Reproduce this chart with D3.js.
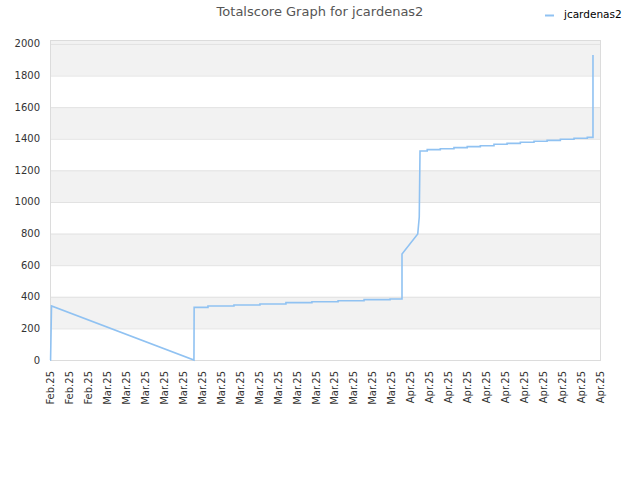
<!DOCTYPE html>
<html>
<head>
<meta charset="utf-8">
<script src="https://cdn.jsdelivr.net/npm/d3@7"></script>
<style>
  body { margin: 0; background: #fff; }
  text { font-family: "DejaVu Sans", sans-serif; }
</style>
</head>
<body>
<script>
// tick labels along the bottom (one every two days)
const tickLabels = [
  "Feb.25", "Feb.25", "Feb.25",
  "Mar.25", "Mar.25", "Mar.25", "Mar.25", "Mar.25", "Mar.25", "Mar.25", "Mar.25",
  "Mar.25", "Mar.25", "Mar.25", "Mar.25", "Mar.25", "Mar.25", "Mar.25", "Mar.25",
  "Apr.25", "Apr.25", "Apr.25", "Apr.25", "Apr.25", "Apr.25", "Apr.25", "Apr.25",
  "Apr.25", "Apr.25", "Apr.25"
];
const yTicks = [0, 200, 400, 600, 800, 1000, 1200, 1400, 1600, 1800, 2000];

// series: position in tick units, total score
const scoreX = [
  0, 0.03, 0.08, 7.59, 7.6, 8.33, 8.33, 9.7, 9.7, 11.07, 11.07, 12.44, 12.44,
  13.81, 13.81, 15.19, 15.19, 16.56, 16.56, 17.93, 17.93, 18.56, 18.56,
  19.39, 19.47, 19.51, 19.89, 19.89, 20.58, 20.58, 21.3, 21.3, 22.0, 22.0,
  22.69, 22.69, 23.41, 23.41, 24.1, 24.1, 24.8, 24.8, 25.52, 25.52, 26.21, 26.21,
  26.91, 26.91, 27.63, 27.63, 28.33, 28.33, 28.63, 28.63
];
const scoreY = [
  0, 0, 342, 0, 333, 333, 342, 342, 348, 348, 354, 354, 363,
  363, 369, 369, 375, 375, 382, 382, 386, 386, 671,
  797, 905, 1323, 1323, 1331, 1331, 1337, 1337, 1344, 1344, 1350,
  1350, 1356, 1356, 1365, 1365, 1371, 1371, 1378, 1378, 1384, 1384, 1390,
  1390, 1397, 1397, 1403, 1403, 1409, 1409, 1930
];
const seriesName = "jcardenas2";

const width = 640, height = 480;
const plot = { left: 50, right: 600, top: 40, bottom: 360 };

const svg = d3.select("body").append("svg").attr("width", width).attr("height", height);

const x = d3.scaleLinear().domain([0, tickLabels.length - 1]).range([plot.left, plot.right]);
const y = d3.scaleLinear().domain([0, 2025]).range([plot.bottom, plot.top]);

// alternating background bands
const bands = yTicks.slice(0, -1).map((v, i) => [v, i === yTicks.length - 2 ? 2025 : yTicks[i + 1]]);
svg.append("g")
  .selectAll("rect")
  .data(bands.filter((d, i) => i % 2 === 1))
  .join("rect")
  .attr("x", plot.left)
  .attr("width", plot.right - plot.left)
  .attr("y", (d) => y(d[1]))
  .attr("height", (d) => y(d[0]) - y(d[1]))
  .attr("fill", "#f2f2f2");

// grid lines
svg.append("g")
  .selectAll("line")
  .data(yTicks)
  .join("line")
  .attr("x1", plot.left)
  .attr("x2", plot.right)
  .attr("y1", (d) => y(d) + 0.5)
  .attr("y2", (d) => y(d) + 0.5)
  .attr("stroke", "#e2e2e2");

// frame
svg.append("rect")
  .attr("x", plot.left + 0.5)
  .attr("y", plot.top + 0.5)
  .attr("width", plot.right - plot.left)
  .attr("height", plot.bottom - plot.top)
  .attr("fill", "none")
  .attr("stroke", "#dcdcdc");

// y labels
svg.append("g")
  .selectAll("text")
  .data(yTicks)
  .join("text")
  .attr("x", 40)
  .attr("y", (d) => y(d))
  .attr("dy", "0.35em")
  .attr("text-anchor", "end")
  .attr("font-size", 10)
  .attr("fill", "#333")
  .text((d) => d);

// x labels, rotated
svg.append("g")
  .selectAll("text")
  .data(tickLabels)
  .join("text")
  .attr("transform", (d, i) => `translate(${x(i) + 4}, 371) rotate(-90)`)
  .attr("text-anchor", "end")
  .attr("font-size", 10)
  .attr("fill", "#333")
  .text((d) => d);

// score line
const line = d3.line().x((d) => x(d[0])).y((d) => y(d[1]));
svg.append("path")
  .datum(d3.zip(scoreX, scoreY))
  .attr("fill", "none")
  .attr("stroke", "#90c2f2")
  .attr("stroke-width", 1.6)
  .attr("d", line);

// title
svg.append("text")
  .attr("x", 320)
  .attr("y", 16)
  .attr("text-anchor", "middle")
  .attr("font-size", 13)
  .attr("fill", "#555")
  .text("Totalscore Graph for " + seriesName);

// legend
svg.append("line")
  .attr("x1", 545).attr("x2", 554)
  .attr("y1", 15.5).attr("y2", 15.5)
  .attr("stroke", "#90c2f2")
  .attr("stroke-width", 2);
svg.append("text")
  .attr("x", 564)
  .attr("y", 18)
  .attr("font-size", 10.5)
  .attr("fill", "#000")
  .text(seriesName);
</script>
</body>
</html>
